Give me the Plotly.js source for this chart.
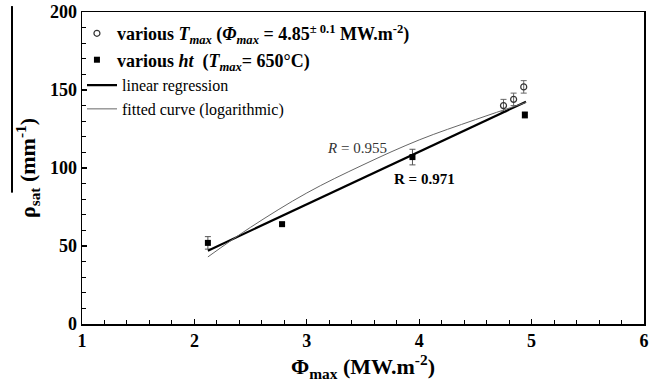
<!DOCTYPE html>
<html>
<head>
<meta charset="utf-8">
<script src="https://cdn.plot.ly/plotly-3.0.1.min.js"></script>
<style>html,body{margin:0;padding:0;background:#fff;}#chart{width:667px;height:382px;}</style>
</head>
<body>
<div id="chart"></div>
<script>
// Data
var circX = [4.75, 4.84, 4.93];
var circY = [140, 144, 152];
var circErr = [4, 4, 4];

var sqX = [2.12, 2.78, 3.94, 4.94];
var sqY = [52, 64, 107, 134];
var sqErr = [4, 1, 5, 2];

var linX = [2.12, 4.95];
var linY = [47, 142.5];

var logX = [2.12, 2.5, 3.0, 3.5, 4.0, 4.5, 4.95];
var logY = [43, 62, 84, 102, 118, 131, 142];

var xTicks = [1, 2, 3, 4, 5, 6];
var yTicks = [0, 50, 100, 150, 200];

var serif = "'Liberation Serif', 'Times New Roman', Times, serif";

var traces = [
  {
    x: circX, y: circY, type: 'scatter', mode: 'markers',
    name: '<b>various <i>T<sub>max</sub></i> (<i>Φ<sub>max</sub></i> = 4.85<sup>± 0.1</sup> MW.m<sup>-2</sup>)</b>',
    legend: 'legend',
    marker: {symbol: 'circle-open', size: 6, color: '#333', line: {width: 1.2}},
    error_y: {type: 'data', array: circErr, visible: true, color: '#666', thickness: 1, width: 3}
  },
  {
    x: sqX, y: sqY, type: 'scatter', mode: 'markers',
    name: '<b>various <i>ht</i>  (<i>T<sub>max</sub></i>= 650°C)</b>',
    legend: 'legend',
    marker: {symbol: 'square', size: 6, color: '#000'},
    error_y: {type: 'data', array: sqErr, visible: true, color: '#555', thickness: 1, width: 3}
  },
  {
    x: linX, y: linY, type: 'scatter', mode: 'lines',
    name: 'linear regression',
    legend: 'legend2',
    line: {color: '#000', width: 2.2}
  },
  {
    x: logX, y: logY, type: 'scatter', mode: 'lines',
    name: 'fitted curve (logarithmic)',
    legend: 'legend2',
    line: {color: '#666', width: 1, shape: 'spline'}
  }
];

var layout = {
  width: 667, height: 382,
  margin: {l: 82, r: 23, t: 12, b: 58},
  paper_bgcolor: '#fff', plot_bgcolor: '#fff',
  font: {family: serif, color: '#000'},
  showlegend: true,
  legend: {
    x: -0.009, y: 0.99, xanchor: 'left', yanchor: 'top',
    bgcolor: 'rgba(0,0,0,0)', borderwidth: 0,
    font: {family: serif, size: 18, color: '#000'},
    itemwidth: 30
  },
  legend2: {
    x: 0.0, y: 0.82, xanchor: 'left', yanchor: 'top',
    bgcolor: 'rgba(0,0,0,0)', borderwidth: 0,
    font: {family: serif, size: 16, color: '#000'},
    itemwidth: 30
  },
  xaxis: {
    range: [1, 6], tickvals: xTicks, ticktext: xTicks.map(String),
    showgrid: false, zeroline: false,
    showline: true, linecolor: '#000', linewidth: 1.5, mirror: true,
    ticks: 'inside', ticklen: 5, tickwidth: 1.2, tickcolor: '#000',
    minor: {dtick: 0.2, ticks: 'inside', ticklen: 4, tickwidth: 1, tickcolor: '#000', showgrid: false},
    tickfont: {family: serif, size: 18, weight: 'bold', color: '#000'},
    title: {text: '<b>Φ<sub>max</sub> (MW.m<sup>-2</sup>)</b>', font: {family: serif, size: 22, color: '#000'}, standoff: 2}
  },
  yaxis: {
    range: [0, 200], tickvals: yTicks, ticktext: yTicks.map(String),
    showgrid: false, zeroline: false,
    showline: true, linecolor: '#000', linewidth: 1.5, mirror: true,
    ticks: 'inside', ticklen: 5, tickwidth: 1.2, tickcolor: '#000',
    minor: {dtick: 10, ticks: 'inside', ticklen: 4, tickwidth: 1, tickcolor: '#000', showgrid: false},
    tickfont: {family: serif, size: 18, weight: 'bold', color: '#000'},
    title: {text: '<b>ρ<sub>sat</sub> (mm<sup>-1</sup>)</b>', font: {family: serif, size: 22, color: '#000'}, standoff: 8}
  },
  annotations: [
    {x: 3.45, y: 113, xref: 'x', yref: 'y', text: '<i>R</i> = 0.955', showarrow: false,
     font: {family: serif, size: 15, color: '#333'}},
    {x: 4.05, y: 93, xref: 'x', yref: 'y', text: '<b>R = 0.971</b>', showarrow: false,
     font: {family: serif, size: 15, color: '#000'}}
  ],
  shapes: [
    {type: 'line', xref: 'paper', yref: 'paper', x0: -0.1246, x1: -0.1246, y0: 1.019, y1: 0.421,
     line: {color: '#000', width: 2}}
  ]
};

Plotly.newPlot('chart', traces, layout, {displayModeBar: false, staticPlot: true});
</script>
</body>
</html>
